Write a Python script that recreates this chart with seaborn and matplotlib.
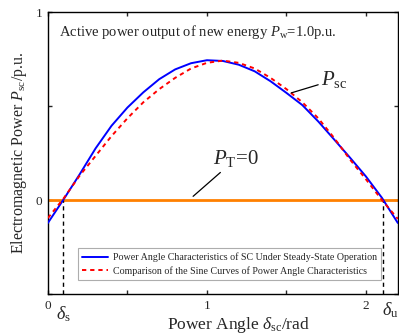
import matplotlib
matplotlib.use("Agg")
import matplotlib.pyplot as plt
import seaborn as sns
import pandas as pd

# ---- data ----
delta = [0.0, 0.1, 0.2, 0.3, 0.4, 0.5, 0.6, 0.7, 0.8, 0.9, 1.0, 1.1,
         1.2, 1.3, 1.4, 1.5, 1.6, 1.7, 1.8, 1.9, 2.0, 2.1, 2.2]
p_sc = [-0.122, 0.005, 0.137, 0.275, 0.395, 0.492, 0.573, 0.643, 0.695, 0.728, 0.744, 0.74,
        0.72, 0.685, 0.632, 0.57, 0.505, 0.418, 0.322, 0.225, 0.125, 0.012, -0.122]
p_sine = [-0.096, 0.01, 0.13, 0.235, 0.34, 0.435, 0.52, 0.59, 0.65, 0.70, 0.73, 0.742,
          0.73, 0.70, 0.65, 0.59, 0.52, 0.435, 0.33, 0.215, 0.11, 0.0, -0.10]
p_t = 0.0
delta_s = 0.096
delta_u = 2.11
x_ticks = [0, 0.5, 1, 1.5, 2]
x_ticklabels = ["0", "", "1", "", "2"]
y_ticks = [-0.5, 0, 0.5, 1]
y_ticklabels = ["", "0", "", "1"]
legend_labels = ["Power Angle Characteristics of SC Under Steady-State Operation",
                 "Comparison of the Sine Curves of Power Angle Characteristics"]

sns.set_style("ticks")
plt.rcParams["font.family"] = ["Liberation Serif", "DejaVu Serif"]
plt.rcParams["mathtext.fontset"] = "custom"
plt.rcParams["mathtext.rm"] = "Liberation Serif"
plt.rcParams["mathtext.it"] = "Liberation Serif:italic"
plt.rcParams["mathtext.default"] = "rm"

df = pd.DataFrame({"delta": delta + delta,
                   "P": p_sc + p_sine,
                   "curve": [legend_labels[0]] * len(delta) + [legend_labels[1]] * len(delta)})

fig = plt.figure(figsize=(3.99, 3.36), dpi=100)
ax = fig.add_axes([0.12, 0.125, 0.877, 0.839])

ax.axhline(p_t, color="#FF8000", lw=2.0, zorder=1)
sns.lineplot(data=df, x="delta", y="P", hue="curve", style="curve",
             palette=["#0000FF", "#FF0000"], dashes=[(None, None), (2.2, 2)],
             ax=ax, lw=1.4, sort=False, zorder=3)

ax.vlines([delta_s, delta_u], -0.5, p_t, colors="black", linestyles=(0, (3, 2.5)), lw=1.0, zorder=2)

ax.set_xlim(0, 2.2)
ax.set_ylim(-0.5, 1)
ax.set_xticks(x_ticks)
ax.set_xticklabels(x_ticklabels)
ax.set_yticks(y_ticks)
ax.set_yticklabels(y_ticklabels)
ax.tick_params(direction="in", top=True, right=True, length=3, width=1, labelsize=9.5, pad=4)
for s in ax.spines.values():
    s.set_linewidth(1.0)
    s.set_color("black")

ax.set_xlabel(r"Power Angle $\mathit{\delta}_{\mathrm{sc}}$/rad", fontsize=12.5)
ax.xaxis.set_label_coords(0.545, -0.074)
ax.set_ylabel(r"Electromagnetic Power $\mathit{P}_{\mathrm{sc}}$/p.u.", fontsize=11.5)
ax.yaxis.set_label_coords(-0.055, 0.5)

ax.text(delta_s, -0.555, r"$\mathit{\delta}_{\mathrm{s}}$", fontsize=13, ha="center", va="top", clip_on=False)
ax.text(delta_u + 0.045, -0.535, r"$\mathit{\delta}_{\mathrm{u}}$", fontsize=13, ha="center", va="top", clip_on=False)

ax.text(0.07, 0.894, r"Active power output of new energy $\mathit{P}_{\mathrm{w}}$=1.0p.u.",
        fontsize=10.5, ha="left", va="center")

ax.annotate(r"$\mathit{P}_{\mathrm{sc}}$", xy=(1.53, 0.57), xytext=(1.72, 0.64),
            fontsize=15, ha="left", va="center",
            arrowprops=dict(arrowstyle="-", color="black", lw=0.9, shrinkA=0, shrinkB=0))
ax.annotate(r"$\mathit{P}_{\mathrm{T}}$=0", xy=(0.9, 0.01), xytext=(1.04, 0.22),
            fontsize=15, ha="left", va="center",
            arrowprops=dict(arrowstyle="-", color="black", lw=0.9, shrinkA=0, shrinkB=2))

handles, labels = ax.get_legend_handles_labels()
leg = ax.legend(handles, labels, loc="lower left", bbox_to_anchor=(0.087, 0.05),
                fontsize=7.2, frameon=True, fancybox=False, edgecolor="#999999",
                handlelength=2.6, borderpad=0.4, labelspacing=0.4, handletextpad=0.5,
                borderaxespad=0)
leg.get_frame().set_linewidth(0.8)

fig.savefig("out.png", dpi=100)
